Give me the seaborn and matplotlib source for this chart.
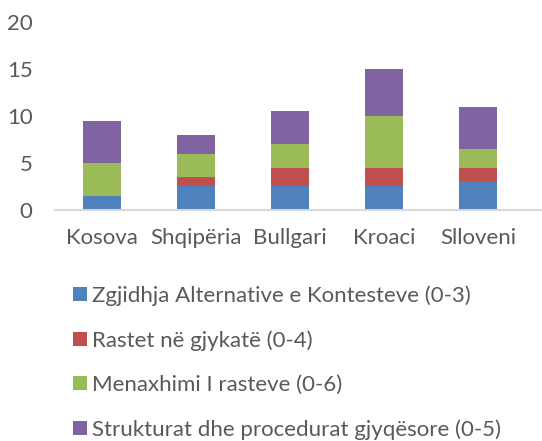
import matplotlib
matplotlib.use("Agg")
import matplotlib.pyplot as plt
import seaborn as sns
import pandas as pd
import numpy as np
from matplotlib.patches import Patch

countries = ["Kosova", "Shqipëria", "Bullgari", "Kroaci", "Slloveni"]
series_names = [
    "Zgjidhja Alternative e Kontesteve (0-3)",
    "Rastet në gjykatë (0-4)",
    "Menaxhimi I rasteve (0-6)",
    "Strukturat dhe procedurat gjyqësore (0-5)",
]
alternative = [1.5, 2.5, 2.5, 2.5, 3.0]
rastet = [0.0, 1.0, 2.0, 2.0, 1.5]
menaxhimi = [3.5, 2.5, 2.5, 5.5, 2.0]
strukturat = [4.5, 2.0, 3.5, 5.0, 4.5]
colors = ["#4F81BD", "#C0504D", "#9BBB59", "#8064A2"]
yticks = [0, 5, 10, 15, 20]

sns.set_theme(style="white")
plt.rcParams["font.family"] = ["Lato", "DejaVu Sans"]
text_color = "#595959"

fig = plt.figure(figsize=(5.42, 4.41), dpi=100)
ax = fig.add_axes([0.101, 0.524, 0.899, 0.426])

bottom = np.zeros(len(countries))
for name, vals, col in zip(series_names, [alternative, rastet, menaxhimi, strukturat], colors):
    df = pd.DataFrame({"country": countries, "value": vals})
    sns.barplot(data=df, x="country", y="value", color=col, width=0.4,
                bottom=bottom, ax=ax, saturation=1, edgecolor="none", errorbar=None)
    bottom = bottom + np.array(vals)

ax.set_ylim(0, 20)
ax.set_xlim(-0.5, 4.68)
ax.set_yticks(yticks)
ax.set_xlabel("")
ax.set_ylabel("")
for s in ["top", "right", "left"]:
    ax.spines[s].set_visible(False)
ax.spines["bottom"].set_color("#D9D9D9")
ax.spines["bottom"].set_linewidth(1.5)
ax.tick_params(axis="both", length=0, labelsize=16, colors=text_color)
ax.tick_params(axis="y", pad=16)
ax.tick_params(axis="x", pad=13)

handles = [Patch(facecolor=c, edgecolor="none") for c in colors]
fig.legend(handles, series_names, loc="upper left", bbox_to_anchor=(0.135, 0.353),
           frameon=False, fontsize=16, handlelength=0.6, handleheight=0.6,
           handletextpad=0.25, labelspacing=1.09, labelcolor=text_color,
           borderpad=0, borderaxespad=0)

fig.savefig("out.png", dpi=100)
